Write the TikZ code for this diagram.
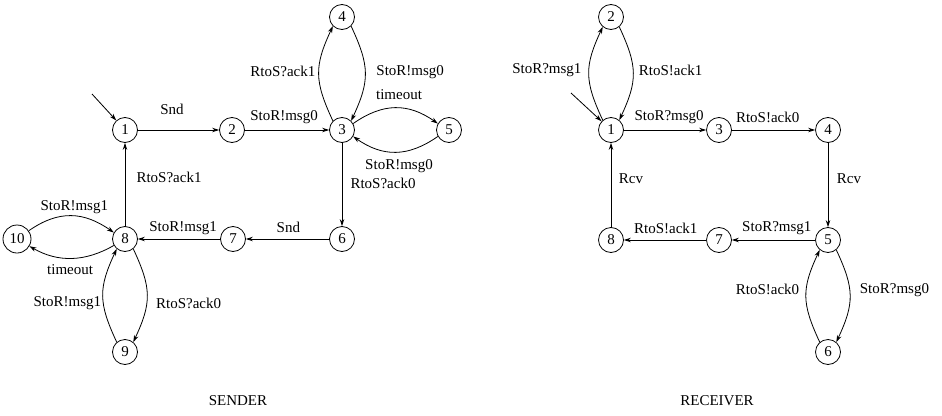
\documentclass[tikz,border=0pt]{standalone}
\usepackage{fontspec}
\setmainfont{Liberation Serif}
\usetikzlibrary{arrows.meta}
\tikzset{
  st/.style={draw, circle, line width=0.8pt, minimum size=25pt, inner sep=1pt, font=\fontsize{15}{18}\selectfont},
  arr/.style={line width=0.8pt, -{Stealth[length=7pt,width=4.5pt]}},
  lbl/.style={font=\fontsize{15}{18}\selectfont, inner sep=0pt},
  ttl/.style={font=\fontsize{15}{18}\selectfont, inner sep=0pt}
}
\begin{document}
\begin{tikzpicture}[x=1pt,y=-1pt]
\useasboundingbox (0,0) rectangle (942,415);
% ---------------- SENDER ----------------
\node[st] (S1) at (125,130) {1};
\node[st] (S2) at (232,130) {2};
\node[st] (S3) at (342,130) {3};
\node[st] (S4) at (342,17) {4};
\node[st] (S5) at (449,130) {5};
\node[st] (S6) at (342,239) {6};
\node[st] (S7) at (233,239) {7};
\node[st] (S8) at (125,239) {8};
\node[st] (S9) at (125,352) {9};
\node[st, minimum size=28pt] (S10) at (17,239) {10};
\coordinate (s0) at (92,94);
\draw[arr] (s0) -- (S1);
\draw[arr] (S1) -- node[lbl, pos=.42, yshift=21pt] {Snd} (S2);
\draw[arr] (S2) -- node[lbl, pos=.465, yshift=13pt] {StoR!msg0} (S3);
\draw[arr] (S3) -- node[lbl, pos=.49, xshift=41pt] {RtoS?ack0} (S6);
\draw[arr] (S6) -- node[lbl, pos=.49, yshift=12pt] {Snd} (S7);
\draw[arr] (S7) -- node[lbl, pos=.45, yshift=11pt] {StoR!msg1} (S8);
\draw[arr] (S8) -- node[lbl, pos=.58, xshift=44pt] {RtoS?ack1} (S1);
\draw[arr] (S3.135) to[out=115,in=245,looseness=1.2] node[lbl, midway, xshift=-36pt, yshift=2.5pt] {RtoS?ack1} (S4.225);
\draw[arr] (S4.-45) to[out=-65,in=65,looseness=1.2] node[lbl, midway, xshift=45pt, yshift=1.5pt] {StoR!msg0} (S3.45);
\draw[arr] (S3.30) to[out=35,in=145,looseness=1.1] node[lbl, midway, xshift=3.5pt, yshift=13pt] {timeout} (S5.150);
\draw[arr] (S5.-150) to[out=-145,in=-35,looseness=1.1] node[lbl, midway, xshift=3.5pt, yshift=-14pt] {StoR!msg0} (S3.-30);
\draw[arr] (S10.35) to[out=35,in=145,looseness=1.1] node[lbl, midway, xshift=3pt, yshift=9pt] {StoR!msg1} (S8.150);
\draw[arr] (S8.-150) to[out=-150,in=-30,looseness=1] node[lbl, midway, xshift=-1.5pt, yshift=-11pt] {timeout} (S10.-30);
\draw[arr] (S8.-50) to[out=-65,in=65,looseness=1.2] node[lbl, midway, xshift=41.5pt, yshift=-7.5pt] {RtoS?ack0} (S9.50);
\draw[arr] (S9.130) to[out=115,in=245,looseness=1.2] node[lbl, midway, xshift=-35.5pt, yshift=-7.5pt] {StoR!msg1} (S8.230);
\node[ttl] (sender) at (238,401) {SENDER};
% ---------------- RECEIVER ----------------
\node[st] (R1) at (611,130) {1};
\node[st] (R2) at (611,17) {2};
\node[st] (R3) at (719,130) {3};
\node[st] (R4) at (828,130) {4};
\node[st] (R5) at (828,240) {5};
\node[st] (R6) at (828,352) {6};
\node[st] (R7) at (719,240) {7};
\node[st] (R8) at (611,240) {8};
\coordinate (r0) at (571,93);
\draw[arr] (r0) -- (R1);
\draw[arr] (R1) -- node[lbl, pos=.55, yshift=13pt] {StoR?msg0} (R3);
\draw[arr] (R3) -- node[lbl, pos=.43, yshift=13pt] {RtoS!ack0} (R4);
\draw[arr] (R4) -- node[lbl, pos=.43, xshift=21pt] {Rcv} (R5);
\draw[arr] (R5) -- node[lbl, pos=.46, yshift=12pt] {StoR?msg1} (R7);
\draw[arr] (R7) -- node[lbl, pos=.49, yshift=12pt] {RtoS!ack1} (R8);
\draw[arr] (R8) -- node[lbl, pos=.57, xshift=20pt] {Rcv} (R1);
\draw[arr] (R1.130) to[out=115,in=245,looseness=1.2] node[lbl, midway, xshift=-42pt, yshift=3.5pt] {StoR?msg1} (R2.230);
\draw[arr] (R2.-50) to[out=-65,in=65,looseness=1.2] node[lbl, midway, xshift=37.5pt, yshift=3.5pt] {RtoS!ack1} (R1.50);
\draw[arr] (R5.-50) to[out=-65,in=65,looseness=1.2] node[lbl, midway, xshift=44.5pt, yshift=6pt] {StoR?msg0} (R6.50);
\draw[arr] (R6.130) to[out=115,in=245,looseness=1.2] node[lbl, midway, xshift=-38.5pt, yshift=7pt] {RtoS!ack0} (R5.230);
\node[ttl] (receiver) at (717,401) {RECEIVER};
\end{tikzpicture}
\end{document}
